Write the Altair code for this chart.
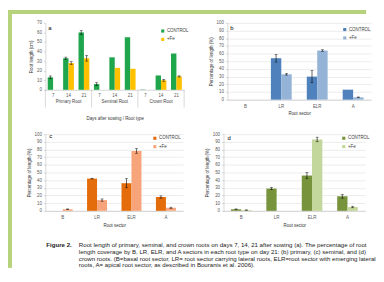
import altair as alt
import pandas as pd

FONT = "Liberation Sans"
treatments = ["CONTROL", "+Fe"]

# ---- Panel a: root length (cm) by root type and day ----
root_types = ["Primary Root", "Seminal Root", "Crown Root"]
days = ["7", "14", "21"]
a_ctrl = [13, 33, 60, 6, 34, 55, 0.3, 15, 38]
a_ctrl_err = [1.5, 1.2, 2, 1.5, 0, 0, 0, 0, 0]
a_fe = [None, 28, 33, None, 23, 22, None, 10, 14]
a_fe_err = [0, 1.5, 3, 0, 0, 0, 0, 1, 0.6]

# ---- Panels b, c, d: percentage of length by root sector ----
sectors = ["B", "LR", "ELR", "A"]
b_ctrl = [0, 54, 30, 13]
b_ctrl_err = [0, 5, 8, 0]
b_fe = [0, 33, 64, 3]
b_fe_err = [0, 1, 1, 0.5]
c_ctrl = [0, 42, 36, 18]
c_ctrl_err = [0, 0.5, 6, 1.5]
c_fe = [2, 14, 78, 4]
c_fe_err = [0.5, 1.5, 3, 0.8]
d_ctrl = [2, 29, 46, 19]
d_ctrl_err = [0.5, 1.5, 4, 2.5]
d_fe = [1, 0, 93, 5]
d_fe_err = [0.3, 0, 3, 1]

caption_lines = [
    "Root length of primary, seminal, and crown roots on days 7, 14, 21 after sowing (a). The percentage of root",
    "length coverage by B, LR, ELR, and A sectors in each root type on day 21: (b) primary, (c) seminal, and (d)",
    "crown roots. (B=basal root sector, LR= root sector carrying lateral roots, ELR=root sector with emerging lateral",
    "roots, A= apical root sector, as described in Bouranis et al. 2006).",
]

GREEN_BG = "#b6d27a"
LBL = 4.5


def legend(x, y):
    return alt.Legend(title=None, orient="none", legendX=x, legendY=y,
                      symbolType="square", symbolSize=10, symbolStrokeWidth=0,
                      labelFontSize=LBL, labelColor="#404040", labelFont=FONT,
                      rowPadding=3.5, labelOffset=2, padding=0)


def yaxis(title, count, grid):
    return alt.Axis(title=title, tickCount=count, grid=grid, labelOverlap=False,
                    labelFlush=False, labelBound=False, labelSeparation=0)


def err_rows(cat, ctrl, cerr, fe, ferr):
    rows = []
    for i, c in enumerate(cat):
        for t, v, e in (("CONTROL", ctrl[i], cerr[i]), ("+Fe", fe[i], ferr[i])):
            rows.append({"cat": c, "trt": t, "value": v, "err": e,
                         "lo": None if v is None else v - e,
                         "hi": None if v is None else v + e})
    return rows


def sector_panel(ctrl, cerr, fe, ferr, colors, letter, w, h, lx, ly, tx, ty):
    df = pd.DataFrame(err_rows(sectors, ctrl, cerr, fe, ferr))
    ytitle = "Percentage of length (%)"
    ysc = alt.Scale(domain=[0, 100], nice=False)
    ax = yaxis(ytitle, 10, True)
    x = alt.X("cat:N", sort=sectors, title="Root sector",
              scale=alt.Scale(paddingInner=0.42, paddingOuter=0.21),
              axis=alt.Axis(labelAngle=0))
    xo = alt.XOffset("trt:N", sort=treatments, scale=alt.Scale(domain=treatments))
    base = alt.Chart(df)
    bars = base.mark_bar().encode(
        x=x, xOffset=xo,
        y=alt.Y("value:Q", scale=ysc, axis=ax),
        color=alt.Color("trt:N", sort=treatments,
                        scale=alt.Scale(domain=treatments, range=colors),
                        legend=legend(lx, ly)),
    )
    eb = base.transform_filter("datum.err > 0")
    rules = eb.mark_rule(color="black", strokeWidth=0.6).encode(
        x=x, xOffset=xo, y=alt.Y("lo:Q", scale=ysc, axis=ax), y2="hi:Q")
    cap_hi = eb.mark_tick(color="black", thickness=0.6, size=3).encode(
        x=x, xOffset=xo, y=alt.Y("hi:Q", scale=ysc, axis=ax))
    cap_lo = eb.mark_tick(color="black", thickness=0.6, size=3).encode(
        x=x, xOffset=xo, y=alt.Y("lo:Q", scale=ysc, axis=ax))
    let = alt.Chart(pd.DataFrame({"t": [letter]})).mark_text(
        fontSize=6, font=FONT, color="black", align="left", baseline="middle").encode(
        x=alt.value(tx), y=alt.value(ty), text="t:N")
    return alt.layer(bars, rules, cap_hi, cap_lo, let).properties(width=w, height=h)


# ---- Panel a (faceted multi-level category axis) ----
rows_a = []
for i in range(9):
    r = root_types[i // 3]
    d = days[i % 3]
    for t, v, e in (("CONTROL", a_ctrl[i], a_ctrl_err[i]), ("+Fe", a_fe[i], a_fe_err[i])):
        rows_a.append({"root": r, "day": d, "trt": t, "value": v, "err": e,
                       "lo": None if v is None else v - e,
                       "hi": None if v is None else v + e})
dfa = pd.DataFrame(rows_a)

wa, ha = 47, 68
ytitle_a = "Root length (cm)"
ysca = alt.Scale(domain=[0, 70], nice=False)
axa = yaxis(ytitle_a, 7, False)
xa = alt.X("day:N", sort=days, title=None,
           scale=alt.Scale(paddingInner=0.3, paddingOuter=0.15),
           axis=alt.Axis(labelAngle=0, labelPadding=3))
xoa = alt.XOffset("trt:N", sort=treatments, scale=alt.Scale(domain=treatments))
ba = alt.Chart()
bars_a = ba.mark_bar().encode(
    x=xa, xOffset=xoa,
    y=alt.Y("value:Q", scale=ysca, axis=axa),
    color=alt.Color("trt:N", sort=treatments,
                    scale=alt.Scale(domain=treatments, range=["#1fa64c", "#ffc000"]),
                    legend=legend(117, 6)),
)
eba = ba.transform_filter("datum.err > 0")
rules_a = eba.mark_rule(color="black", strokeWidth=0.6).encode(
    x=xa, xOffset=xoa, y=alt.Y("lo:Q", scale=ysca, axis=axa), y2="hi:Q")
caphi_a = eba.mark_tick(color="black", thickness=0.6, size=3).encode(
    x=xa, xOffset=xoa, y=alt.Y("hi:Q", scale=ysca, axis=axa))
caplo_a = eba.mark_tick(color="black", thickness=0.6, size=3).encode(
    x=xa, xOffset=xoa, y=alt.Y("lo:Q", scale=ysca, axis=axa))
one = "datum.day == '7' && datum.trt == 'CONTROL'"
sep_a = ba.transform_filter(one).mark_rule(color="#bfbfbf", strokeWidth=0.6).encode(
    x=alt.value(0), y=alt.value(ha), y2=alt.value(ha + 18))
sep_end = ba.transform_filter(one + " && datum.root == 'Crown Root'").mark_rule(
    color="#bfbfbf", strokeWidth=0.6).encode(
    x=alt.value(wa), y=alt.value(ha), y2=alt.value(ha + 18))
let_a = ba.transform_filter(one + " && datum.root == 'Primary Root'").mark_text(
    text="a", fontSize=6, font=FONT, color="black", align="left", baseline="middle").encode(
    x=alt.value(3), y=alt.value(5))

panel_a = alt.layer(bars_a, rules_a, caphi_a, caplo_a, sep_a, sep_end, let_a, data=dfa).properties(
    width=wa, height=ha
).facet(
    column=alt.Column("root:N", sort=root_types,
                      header=alt.Header(labelOrient="bottom", titleOrient="bottom",
                                        title="Days after sowing / Root type",
                                        labelFontSize=LBL, titleFontSize=LBL,
                                        labelColor="#404040", titleColor="#333333",
                                        titleFontWeight="normal", labelFont=FONT, titleFont=FONT,
                                        labelPadding=2, titlePadding=3)),
    spacing=0, bounds="flush",
)

panel_b = sector_panel(b_ctrl, b_ctrl_err, b_fe, b_fe_err, ["#4f81bd", "#95b3d7"], "b",
                       146, 78, 117, 4.5, 3, 5)
panel_c = sector_panel(c_ctrl, c_ctrl_err, c_fe, c_fe_err, ["#e46c0a", "#f7a47a"], "c",
                       140, 78, 109, 2, 4, 2)
panel_d = sector_panel(d_ctrl, d_ctrl_err, d_fe, d_fe_err, ["#77933c", "#c3d69b"], "d",
                       144, 78, 120, 2, 4, 4)

# ---- Caption ----
capdf = pd.DataFrame({"idx": list(range(len(caption_lines))), "line": caption_lines})
cap_text = alt.Chart(capdf).mark_text(
    align="left", baseline="middle", fontSize=6.2, font=FONT, color="#222222").encode(
    x=alt.value(34), y=alt.Y("idx:O", axis=None, scale=alt.Scale(paddingInner=0, paddingOuter=0)),
    text="line:N")
fig_lbl = alt.Chart(pd.DataFrame({"t": ["Figure 2."]})).mark_text(
    align="left", baseline="middle", fontSize=6.2, font=FONT, fontWeight="bold",
    color="#222222").encode(x=alt.value(1), y=alt.value(3.5), text="t:N")
caption = alt.layer(cap_text, fig_lbl).properties(width=320, height=28)


def spacer(h, w=1):
    return alt.Chart(pd.DataFrame({"v": [0]})).mark_point(opacity=0, size=0).encode(
        x=alt.value(0), y=alt.value(0)).properties(width=w, height=h)


def strip(w, h):
    return alt.Chart(pd.DataFrame({"v": [0]})).mark_point(opacity=0, size=0).encode(
        x=alt.value(0), y=alt.value(0)).properties(
        width=w, height=h, view=alt.ViewBackground(fill=GREEN_BG, stroke=None))


ind = dict(color="independent", xOffset="independent")
row1 = alt.hconcat(panel_a, panel_b, spacing=19).resolve_scale(**ind).resolve_legend(color="independent")
row2 = alt.hconcat(panel_c, panel_d, spacing=21).resolve_scale(**ind).resolve_legend(color="independent")
main = alt.vconcat(spacer(5.5), row1, spacer(9.5), row2, spacer(15), caption,
                   spacing=0).resolve_scale(**ind).resolve_legend(color="independent")
body = alt.hconcat(strip(4, 258), main, spacing=14).resolve_scale(**ind).resolve_legend(color="independent")
chart = alt.vconcat(strip(364, 4), body, spacing=0).resolve_scale(**ind).resolve_legend(
    color="independent"
).configure(
    font=FONT, background="white", padding=0
).configure_view(
    stroke=None
).configure_axis(
    labelFont=FONT, titleFont=FONT, labelFontSize=LBL, titleFontSize=LBL,
    labelColor="#595959", titleColor="#333333", titleFontWeight="normal",
    domainColor="#bfbfbf", domainWidth=0.6, tickColor="#bfbfbf", tickWidth=0.6,
    gridColor="#d9d9d9", gridWidth=0.5,
).configure_axisY(
    tickSize=2, labelPadding=2, titlePadding=3,
).configure_axisX(
    ticks=False, labelPadding=4, titlePadding=3, grid=False,
)

chart.save("out.html", embed_options={"renderer": "svg", "actions": False})
